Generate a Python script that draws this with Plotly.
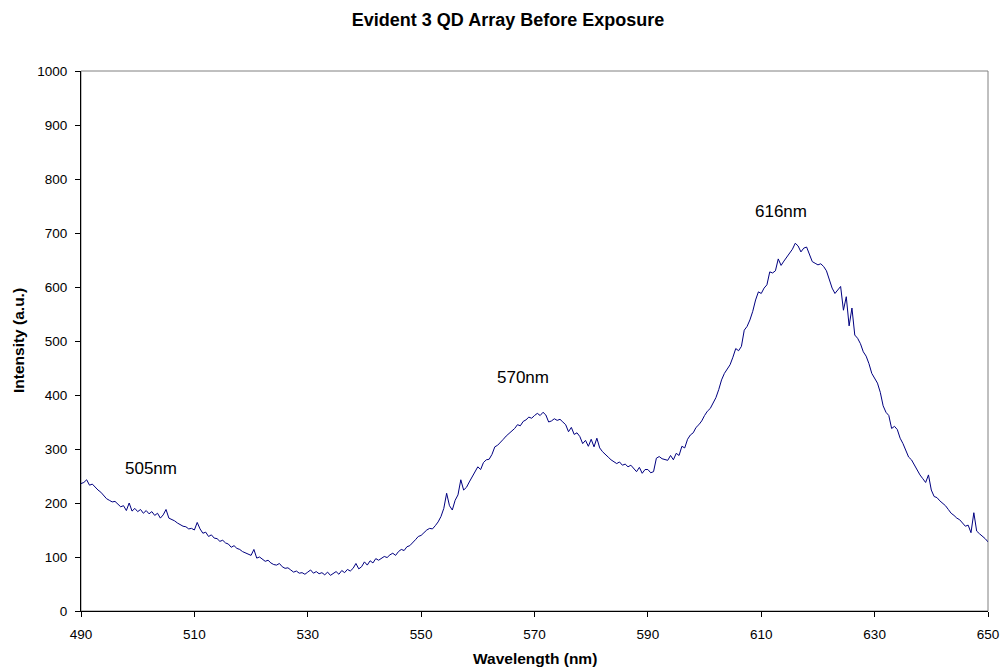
import plotly.graph_objects as go

# Wavelength grid (nm), 0.5 nm steps from 490 to 650
wavelength_start = 490.0
wavelength_step = 0.5

# Intensity readings (a.u.), one row per 5 nm
intensity = [
    236, 238, 243, 233, 235, 229, 224, 220, 214, 208,  # 490
    205, 202, 203, 197, 193, 195, 186, 200, 185, 190,  # 495
    184, 188, 181, 186, 180, 184, 177, 181, 172, 178,  # 500
    188, 172, 170, 167, 163, 160, 157, 156, 152, 153,  # 505
    150, 164, 152, 144, 146, 138, 141, 135, 134, 129,  # 510
    131, 126, 124, 118, 121, 116, 114, 110, 108, 106,  # 515
    103, 114, 98, 100, 96, 92, 94, 89, 86, 85,  # 520
    88, 82, 79, 80, 76, 72, 74, 70, 71, 68,  # 525
    72, 76, 70, 73, 69, 71, 67, 72, 66, 70,  # 530
    73, 68, 75, 71, 77, 74, 79, 88, 78, 82,  # 535
    91, 85, 93, 89, 97, 94, 98, 101, 99, 104,  # 540
    107, 103, 110, 114, 112, 119, 121, 126, 132, 138,  # 545
    140, 145, 150, 153, 152, 158, 165, 175, 190, 218,  # 550
    195, 187, 205, 215, 243, 224, 229, 239, 248, 258,  # 555
    267, 262, 275, 280, 281, 290, 304, 307, 312, 318,  # 560
    324, 329, 333, 338, 345, 343, 351, 354, 359, 357,  # 565
    362, 366, 362, 368, 363, 350, 352, 356, 353, 355,  # 570
    350, 345, 332, 340, 327, 330, 323, 310, 316, 305,  # 575
    318, 304, 320, 302, 295, 289, 285, 280, 276, 273,  # 580
    276, 270, 272, 267, 270, 264, 258, 266, 255, 262,  # 585
    262, 256, 258, 283, 286, 282, 280, 279, 288, 280,  # 590
    292, 288, 305, 302, 318, 326, 330, 340, 345, 352,  # 595
    362, 370, 375, 385, 395, 410, 428, 440, 448, 456,  # 600
    470, 486, 482, 490, 520, 527, 539, 555, 576, 591,  # 605
    588, 598, 604, 628, 626, 630, 652, 640, 648, 655,  # 610
    662, 670, 681, 676, 665, 672, 674, 660, 647, 644,  # 615
    641, 643, 638, 630, 613, 598, 588, 595, 601, 557,  # 620
    582, 528, 561, 511, 505, 495, 480, 472, 458, 440,  # 625
    432, 422, 405, 380, 368, 362, 338, 342, 336, 320,  # 630
    310, 298, 285, 280, 270, 262, 252, 245, 238, 252,  # 635
    224, 212, 210, 204, 199, 195, 188, 181, 177, 172,  # 640
    169, 163, 157, 159, 145, 182, 148, 143, 139, 134,  # 645
    128,  # 650
]

wavelength = [wavelength_start + i * wavelength_step for i in range(len(intensity))]

# Peak labels
peak_labels = ["505nm", "570nm", "616nm"]
peak_label_x = [502.3, 568.0, 613.5]
peak_label_y = [263, 433, 739]

FONT = "Liberation Sans, Arial, sans-serif"
FIG_W = 1000
FIG_H = 668

fig = go.Figure()
fig.add_trace(
    go.Scatter(
        x=wavelength,
        y=intensity,
        mode="lines",
        line=dict(color="#000080", width=1),
        showlegend=False,
    )
)

for label, lx, ly in zip(peak_labels, peak_label_x, peak_label_y):
    fig.add_annotation(
        x=lx, y=ly, text=label, showarrow=False,
        font=dict(size=17, color="black"),
    )

# Axis titles placed as annotations so the plot area stays fixed
fig.add_annotation(
    text="<b>Wavelength (nm)</b>", xref="paper", yref="paper",
    x=0.5, y=0, xanchor="center", yanchor="middle", yshift=-47,
    showarrow=False, font=dict(size=15.5),
)
fig.add_annotation(
    text="<b>Intensity (a.u.)</b>", xref="paper", yref="paper",
    x=0, y=0.5, xanchor="center", yanchor="middle", xshift=-63,
    textangle=-90, showarrow=False, font=dict(size=15.5),
)

# Gray frame round the plot area
fig.add_shape(
    type="rect", xref="paper", yref="paper", x0=0, y0=0, x1=1, y1=1,
    line=dict(color="#808080", width=1), layer="below",
)

fig.update_layout(
    width=FIG_W,
    height=FIG_H,
    margin=dict(l=81, r=12, t=71, b=57, autoexpand=False),
    paper_bgcolor="white",
    plot_bgcolor="white",
    font=dict(family=FONT, color="black", size=14),
    title=dict(
        text="<b>Evident 3 QD Array Before Exposure</b>",
        x=508 / FIG_W, xanchor="center", xref="container",
        y=1 - 20 / FIG_H, yanchor="middle", yref="container",
        font=dict(size=18),
    ),
)

fig.update_xaxes(
    range=[490, 650],
    tick0=490, dtick=20,
    ticks="outside", ticklen=5, tickcolor="black",
    tickfont=dict(size=13.5), ticklabelstandoff=6,
    showline=True, linecolor="black", linewidth=1,
    showgrid=False, zeroline=False, automargin=False,
)
fig.update_yaxes(
    range=[0, 1000],
    tick0=0, dtick=100,
    ticks="outside", ticklen=5, tickcolor="black",
    tickfont=dict(size=13.5), ticklabelstandoff=5,
    showline=True, linecolor="black", linewidth=1,
    showgrid=False, zeroline=False, automargin=False,
)

# Drop the default page margin so the figure fills the window exactly
fig.write_html(
    "out.html",
    config={"displayModeBar": False},
    post_script="document.body.style.margin='0';document.body.style.overflow='hidden';",
)
